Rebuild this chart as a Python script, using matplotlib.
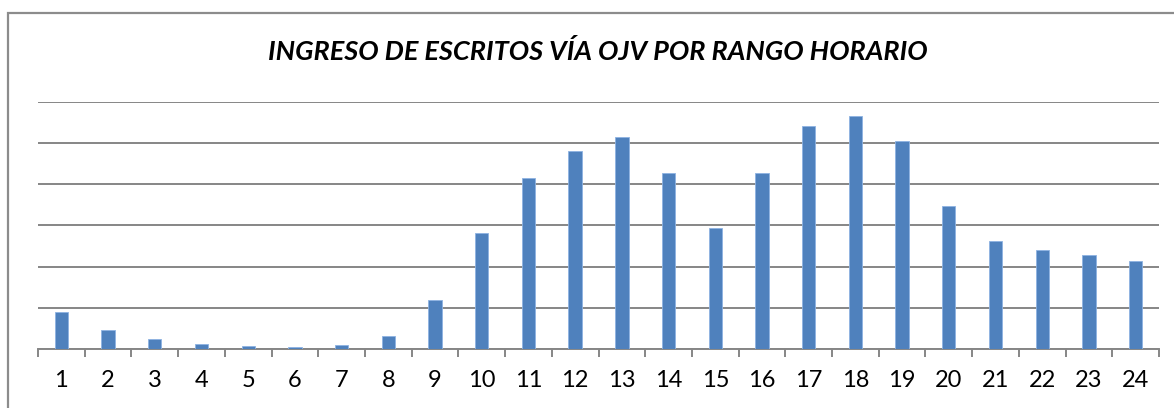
import matplotlib
matplotlib.use("Agg")
import matplotlib.pyplot as plt
from matplotlib.patches import Rectangle

hours = [str(h) for h in range(1, 25)]
values = [0.89, 0.47, 0.24, 0.12, 0.065, 0.048, 0.097, 0.31,
          1.18, 2.81, 4.15, 4.81, 5.15, 4.26, 2.94, 4.28,
          5.41, 5.65, 5.04, 3.47, 2.61, 2.40, 2.29, 2.13]
title = "INGRESO DE ESCRITOS VÍA OJV POR RANGO HORARIO"

W, H = 1174, 408
fig = plt.figure(figsize=(W / 100, H / 100), dpi=100)
fig.patch.set_facecolor("white")

# outer chart border (extends past right/bottom edges)
fig.patches.append(Rectangle((8 / W, -0.1), 1.2, (H - 13) / H + 0.1,
                             transform=fig.transFigure, fill=False,
                             edgecolor="#8c8c8c", linewidth=1.6, zorder=0))

left, right = 38 / W, 1159 / W
bottom, top = (H - 349) / H, (H - 101.7) / H
ax = fig.add_axes([left, bottom, right - left, top - bottom])

x = list(range(1, 25))
ax.bar(x, values, width=0.286, color="#4F81BD", edgecolor="#8DB3E2",
       linewidth=0.6, zorder=3)

ax.set_xlim(0.5, 24.5)
ax.set_ylim(0, 6)
ax.set_yticks(range(0, 7))
ax.yaxis.grid(True, color="#868686", linewidth=1.4)
ax.set_axisbelow(True)
ax.tick_params(axis="y", left=False, labelleft=False)

ax.set_xticks(x)
ax.set_xticklabels(hours, fontsize=17, fontfamily="Lato")
ax.set_xticks([i + 0.5 for i in range(0, 25)], minor=True)
ax.tick_params(axis="x", which="major", length=0, pad=15, colors="black")
ax.tick_params(axis="x", which="minor", length=6, width=1.4, color="#868686")

for s in ["top", "right", "left"]:
    ax.spines[s].set_visible(False)
ax.spines["bottom"].set_color("#868686")
ax.spines["bottom"].set_linewidth(1.4)

fig.text(598 / W, 1 - 52 / H, title, ha="center", va="center",
         fontsize=19.5, fontweight="bold", fontstyle="italic", fontfamily="Lato")

fig.savefig("out.png", dpi=100, facecolor="white")
